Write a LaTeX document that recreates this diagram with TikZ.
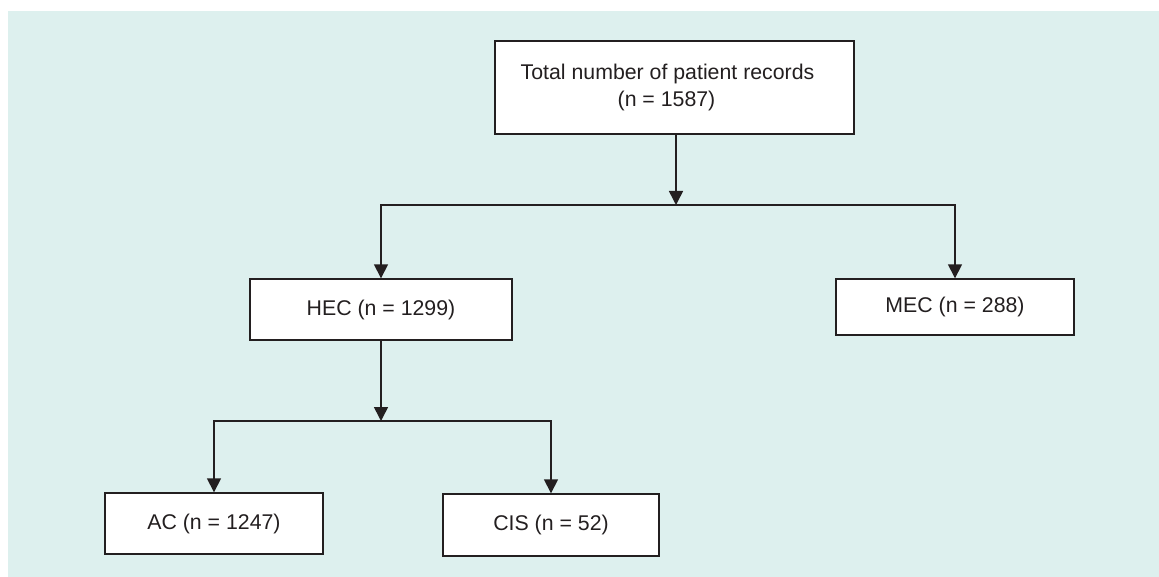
\documentclass[tikz,border=0pt]{standalone}
\usepackage{fontspec}
\setmainfont{Liberation Sans}
\usetikzlibrary{arrows.meta}
\definecolor{bg}{RGB}{221,240,238}
\definecolor{ink}{RGB}{35,31,32}
\begin{document}
\begin{tikzpicture}[x=1pt,y=-1pt,
  box/.style={draw=ink, fill=white, line width=1.4pt, inner sep=0pt, align=center,
    font=\fontsize{21.3}{27}\selectfont, text=ink},
  conn/.style={draw=ink, line width=1.6pt, -{Triangle[length=14pt,width=14pt]}}]
\path[use as bounding box] (0,0) rectangle (1159,577);
\fill[bg] (8,11) rectangle (1159,577);
\node[box, minimum width=359pt, minimum height=93pt] (total) at (674.5,87.5) {Total number of patient records\hspace*{14pt}\\(n = 1587)\hspace*{16pt}};
\node[box, minimum width=262pt, minimum height=61pt] (hec) at (381,309.5) {HEC (n = 1299)};
\node[box, minimum width=238pt, minimum height=56pt] (mec) at (955,307) {MEC (n = 288)};
\node[box, minimum width=218pt, minimum height=61pt] (ac) at (214,523.5) {AC (n = 1247)};
\node[box, minimum width=216pt, minimum height=62pt] (cis) at (551,525) {CIS (n = 52)};
\coordinate (j1) at (676,205);
\coordinate (j2) at (381,421);
\draw[conn] (total.south -| j1) -- (j1);
\draw[conn] (j1) -| (hec.north);
\draw[conn] (j1) -| (mec.north);
\draw[conn] (hec.south) -- (j2);
\draw[conn] (j2) -| (ac.north);
\draw[conn] (j2) -| (cis.north);
\end{tikzpicture}
\end{document}
